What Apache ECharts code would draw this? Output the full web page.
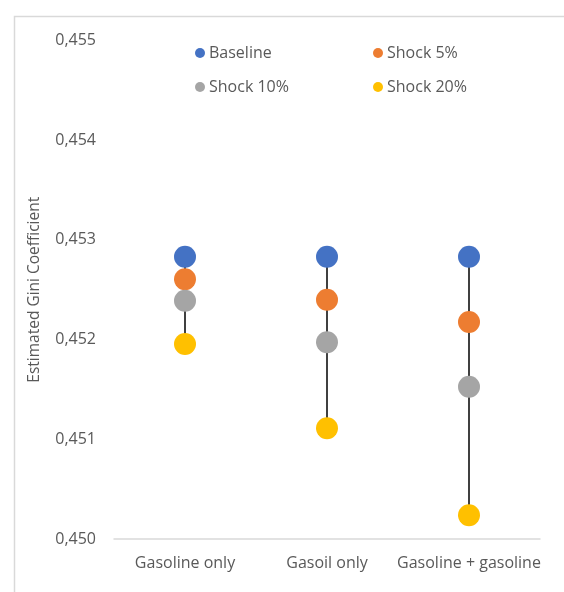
<!DOCTYPE html>
<html>
<head>
<meta charset="utf-8">
<script src="https://cdn.jsdelivr.net/npm/echarts@6/dist/echarts.min.js"></script>
<style>
html,body{margin:0;padding:0;background:#fff;}
#chart{width:564px;height:592px;}
</style>
</head>
<body>
<div id="chart"></div>
<script>
var categories = ['Gasoline only', 'Gasoil only', 'Gasoline + gasoline'];
var baseline  = [0.452831, 0.452831, 0.452831];
var shock5    = [0.452605, 0.452400, 0.452177];
var shock10   = [0.452390, 0.451973, 0.451528];
var shock20   = [0.451956, 0.451110, 0.450238];
var yTicks = { min: 0.450, max: 0.455, step: 0.001 };

var FONT = 'Open Sans';
var TXT = '#595959';

var allSeries = [baseline, shock5, shock10, shock20];
var hiLo = categories.map(function (c, i) {
  var vals = allSeries.map(function (s) { return s[i]; });
  return [i, Math.min.apply(null, vals), Math.max.apply(null, vals)];
});

var chart = echarts.init(document.getElementById('chart'));
function sc(name, data, color) {
  return {
    name: name, type: 'scatter', data: data, symbol: 'circle', symbolSize: 22,
    itemStyle: { color: color, opacity: 1 }, z: 3
  };
}
chart.setOption({
  animation: false,
  backgroundColor: '#fff',
  graphic: [{
    type: 'rect', left: 12, top: 14, shape: { width: 700, height: 700 },
    style: { fill: 'none', stroke: '#D9D9D9', lineWidth: 1.5 }, z: -10
  }],
  legend: [{
    data: ['Baseline', 'Shock 10%'], orient: 'vertical', left: 195, top: 45,
    icon: 'circle', itemWidth: 10, itemHeight: 10, itemGap: 18, padding: 0,
    textStyle: { fontFamily: FONT, fontSize: 16, color: TXT, padding: [0, 0, 0, -1] }
  }, {
    data: ['Shock 5%', 'Shock 20%'], orient: 'vertical', left: 373, top: 45,
    icon: 'circle', itemWidth: 10, itemHeight: 10, itemGap: 18, padding: 0,
    textStyle: { fontFamily: FONT, fontSize: 16, color: TXT, padding: [0, 0, 0, -1] }
  }],
  grid: { left: 114, right: 24, top: 40.5, bottom: 53, containLabel: false },
  xAxis: {
    type: 'category', data: categories, boundaryGap: true,
    axisLine: { lineStyle: { color: '#D9D9D9', width: 1.5 } },
    axisTick: { show: false },
    axisLabel: { fontFamily: FONT, fontSize: 16, color: TXT, margin: 16, interval: 0 },
    splitLine: { show: false }
  },
  yAxis: {
    type: 'value', min: yTicks.min, max: yTicks.max, interval: yTicks.step,
    name: 'Estimated Gini Coefficient', nameLocation: 'middle', nameRotate: 90, nameGap: 71,
    nameTextStyle: { fontFamily: FONT, fontSize: 15.5, color: TXT },
    axisLine: { show: false }, axisTick: { show: false }, splitLine: { show: false },
    axisLabel: {
      fontFamily: FONT, fontSize: 16, color: TXT, margin: 18,
      formatter: function (v) { return v.toFixed(3).replace('.', ','); }
    }
  },
  series: [{
    type: 'custom', data: hiLo, z: 1, silent: true,
    renderItem: function (params, api) {
      var p1 = api.coord([api.value(0), api.value(1)]);
      var p2 = api.coord([api.value(0), api.value(2)]);
      return { type: 'line', shape: { x1: p1[0], y1: p1[1], x2: p2[0], y2: p2[1] },
        style: { stroke: '#404040', lineWidth: 2 } };
    }
  },
    sc('Baseline', baseline, '#4472C4'),
    sc('Shock 5%', shock5, '#ED7D31'),
    sc('Shock 10%', shock10, '#A5A5A5'),
    sc('Shock 20%', shock20, '#FFC000')
  ]
});
</script>
</body>
</html>
